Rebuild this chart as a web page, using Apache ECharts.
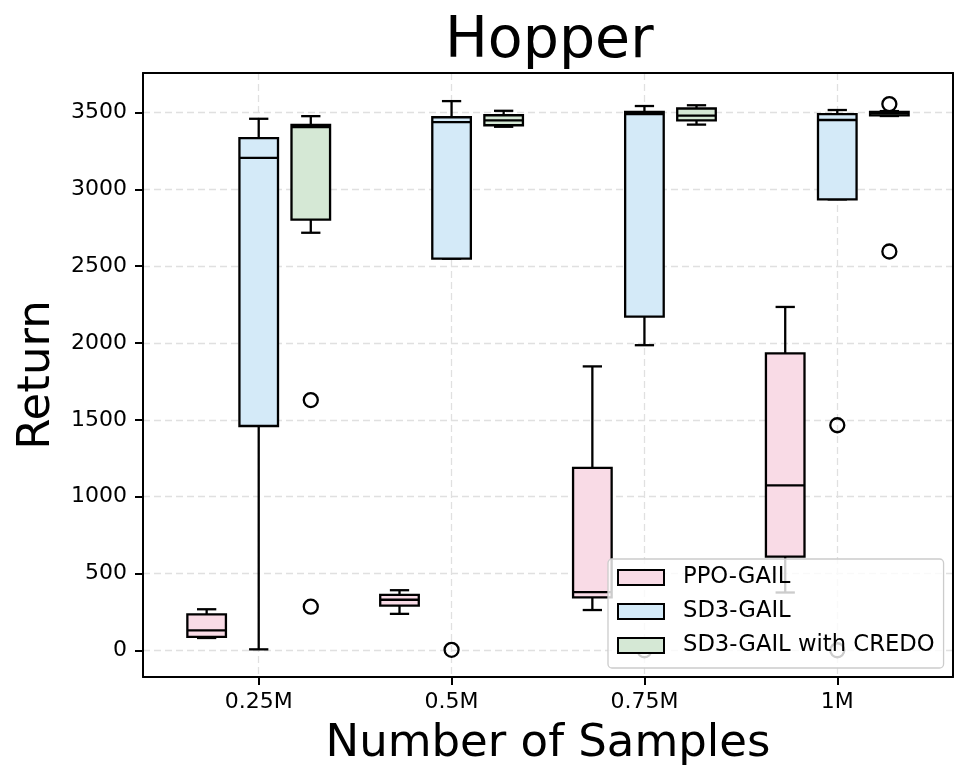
<!DOCTYPE html>
<html>
<head>
<meta charset="utf-8">
<script src="https://cdn.jsdelivr.net/npm/echarts@6/dist/echarts.min.js"></script>
<style>
  html, body { margin: 0; padding: 0; background: #fff; }
  #chart { width: 970px; height: 784px; }
</style>
</head>
<body>
<div id="chart"></div>
<script>
// ---- data ----
const categories = ['0.25M', '0.5M', '0.75M', '1M'];
const yTicks = [0, 500, 1000, 1500, 2000, 2500, 3000, 3500];
const seriesNames = ['PPO-GAIL', 'SD3-GAIL', 'SD3-GAIL with CREDO'];

// each box: [lower whisker, Q1, median, Q3, upper whisker]
const ppoBoxes = [
  [80, 87, 130, 234, 267],
  [237, 291, 329, 361, 391],
  [262, 344, 379, 1188, 1848],
  [376, 610, 1074, 1933, 2235]
];
const sd3Boxes = [
  [6, 1460, 3206, 3334, 3460],
  [2549, 2549, 3438, 3470, 3575],
  [1986, 2172, 3491, 3504, 3543],
  [2935, 2935, 3452, 3490, 3517]
];
const credoBoxes = [
  [2718, 2803, 3406, 3420, 3477],
  [3408, 3418, 3450, 3483, 3512],
  [3422, 3450, 3480, 3527, 3548],
  [3478, 3482, 3495, 3505, 3510]
];

// outliers per category
const ppoOutliers = [[], [], [], []];
const sd3Outliers = [[], [3], [0], [1465, 0]];
const credoOutliers = [[1629, 284], [], [], [3556, 2596]];

// ---- styling / layout constants ----
const FONT = 'DejaVu Sans';
const fills = ['#f9dbe6', '#d4eaf8', '#d5e8d5'];
const offsets = [-0.27, 0, 0.27];
const BOX_W = 0.2;
const LW = 2.3;
const FRAME_W = 2;

function boxSeries(idx, boxes) {
  return {
    type: 'custom',
    name: seriesNames[idx],
    itemStyle: { color: fills[idx], borderColor: '#000', borderWidth: LW },
    data: boxes.map((b, i) => [i + 1 + offsets[idx]].concat(b)),
    encode: { x: 0, y: [1, 2, 3, 4, 5] },
    z: 3,
    renderItem: function (params, api) {
      const x = api.value(0);
      const lo = api.value(1), q1 = api.value(2), med = api.value(3), q3 = api.value(4), hi = api.value(5);
      const w = api.size([BOX_W, 0])[0];
      const pLo = api.coord([x, lo]);
      const pQ1 = api.coord([x, q1]);
      const pMed = api.coord([x, med]);
      const pQ3 = api.coord([x, q3]);
      const pHi = api.coord([x, hi]);
      const cx = pQ1[0];
      const st = { stroke: '#000', lineWidth: LW, fill: null };
      const capHalf = w / 4;
      return {
        type: 'group',
        children: [
          { type: 'line', shape: { x1: cx, y1: pQ1[1], x2: cx, y2: pLo[1] }, style: st },
          { type: 'line', shape: { x1: cx, y1: pQ3[1], x2: cx, y2: pHi[1] }, style: st },
          { type: 'line', shape: { x1: cx - capHalf, y1: pLo[1], x2: cx + capHalf, y2: pLo[1] }, style: st },
          { type: 'line', shape: { x1: cx - capHalf, y1: pHi[1], x2: cx + capHalf, y2: pHi[1] }, style: st },
          { type: 'rect', shape: { x: cx - w / 2, y: pQ3[1], width: w, height: pQ1[1] - pQ3[1] },
            style: { fill: fills[idx], stroke: '#000', lineWidth: LW } },
          { type: 'line', shape: { x1: cx - w / 2, y1: pMed[1], x2: cx + w / 2, y2: pMed[1] }, style: st }
        ]
      };
    }
  };
}

function outlierSeries(idx, outs) {
  const data = [];
  outs.forEach((list, i) => list.forEach(v => data.push([i + 1 + offsets[idx], v])));
  return {
    type: 'scatter',
    name: seriesNames[idx] + ' outliers',
    data: data,
    symbol: 'circle',
    symbolSize: 14,
    z: 3,
    itemStyle: { color: 'rgba(255,255,255,0)', borderColor: '#000', borderWidth: LW, opacity: 1 }
  };
}

const splitLineStyle = { show: true, lineStyle: { color: '#e0e0e0', type: [7, 4], width: 1.3 } };

const option = {
  animation: false,
  backgroundColor: '#fff',
  textStyle: { fontFamily: FONT },
  title: {
    text: 'Hopper',
    left: 440,
    top: 9,
    textStyle: { fontFamily: FONT, fontSize: 57, fontWeight: 'normal', color: '#000' }
  },
  legend: {
    orient: 'vertical',
    left: 608,
    top: 559,
    padding: [7, 9, 11, 9],
    itemGap: 11,
    itemWidth: 46,
    itemHeight: 15,
    backgroundColor: 'rgba(255,255,255,0.8)',
    borderColor: '#cccccc',
    borderWidth: 1.3,
    borderRadius: 4,
    textStyle: { fontFamily: FONT, fontSize: 22.7, color: '#000', padding: [0, 0, 0, 14] },
    data: seriesNames.map((n, i) => ({
      name: n,
      icon: 'rect',
      itemStyle: { color: fills[i], borderColor: '#000', borderWidth: 2 }
    }))
  },
  grid: { left: 143, top: 73, width: 810, height: 604, containLabel: false },
  xAxis: [
    {
      type: 'value',
      min: 0.4,
      max: 4.6,
      name: 'Number of Samples',
      nameLocation: 'middle',
      nameGap: 45,
      nameTextStyle: { fontFamily: FONT, fontSize: 45, color: '#000' },
      axisLine: { show: true, onZero: false, lineStyle: { color: '#000', width: FRAME_W } },
      axisTick: { show: true, length: 8, lineStyle: { color: '#000', width: FRAME_W }, customValues: [1, 2, 3, 4] },
      axisLabel: {
        margin: 14,
        fontFamily: FONT, fontSize: 22, color: '#000',
        customValues: [1, 2, 3, 4],
        formatter: v => (Number.isInteger(v) && v >= 1 && v <= 4) ? categories[v - 1] : ''
      },
      splitLine: splitLineStyle
    },
    {
      type: 'value', position: 'top', min: 0.4, max: 4.6,
      axisLine: { show: true, onZero: false, lineStyle: { color: '#000', width: FRAME_W } },
      axisTick: { show: false }, axisLabel: { show: false }, splitLine: { show: false }
    }
  ],
  yAxis: [
    {
      type: 'value',
      min: -174,
      max: 3758,
      splitNumber: 8,
      name: 'Return',
      nameLocation: 'middle',
      nameGap: 79,
      nameTextStyle: { fontFamily: FONT, fontSize: 45, color: '#000' },
      axisLine: { show: true, onZero: false, lineStyle: { color: '#000', width: FRAME_W } },
      axisTick: { show: true, length: 8, lineStyle: { color: '#000', width: FRAME_W }, customValues: yTicks },
      axisLabel: {
        margin: 16,
        fontFamily: FONT, fontSize: 22, color: '#000',
        customValues: yTicks,
        formatter: v => (yTicks.indexOf(v) >= 0 ? String(v) : '')
      },
      splitLine: splitLineStyle
    },
    {
      type: 'value', position: 'right', min: -174, max: 3758,
      axisLine: { show: true, onZero: false, lineStyle: { color: '#000', width: FRAME_W } },
      axisTick: { show: false }, axisLabel: { show: false }, splitLine: { show: false }
    }
  ],
  series: [
    boxSeries(0, ppoBoxes),
    boxSeries(1, sd3Boxes),
    boxSeries(2, credoBoxes),
    outlierSeries(0, ppoOutliers),
    outlierSeries(1, sd3Outliers),
    outlierSeries(2, credoOutliers)
  ]
};

const chart = echarts.init(document.getElementById('chart'), null, { renderer: 'canvas' });
chart.setOption(option);
</script>
</body>
</html>
